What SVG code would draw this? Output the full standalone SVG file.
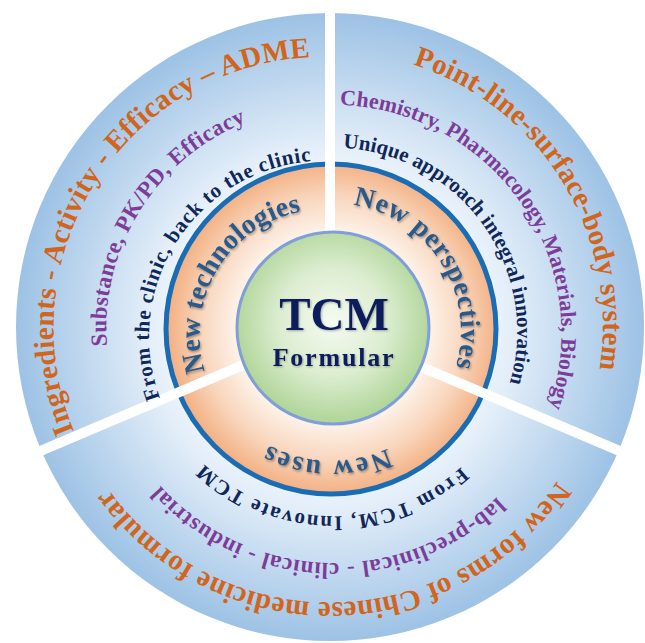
<svg xmlns="http://www.w3.org/2000/svg" width="645" height="643" viewBox="0 0 645 643">
<style>
  text { font-family: "Liberation Serif", "Times New Roman", serif; font-weight: bold; }
  .o { fill: #d2651c; font-size: 29px; }
  .p { fill: #7d3c98; font-size: 23px; }
  .n { fill: #10275a; font-size: 21px; }
  .r { fill: #2b5a89; font-size: 28px; filter: url(#shadow); }
  .div { stroke: #ffffff; stroke-width: 10; fill: none; }
</style>
<defs>
  <radialGradient id="gBlue" gradientUnits="userSpaceOnUse" cx="330" cy="328" r="314">
    <stop offset="0.5" stop-color="#eef5fc"/>
    <stop offset="0.58" stop-color="#e3eef9"/>
    <stop offset="1" stop-color="#9dc2e5"/>
  </radialGradient>
  <radialGradient id="gOrange" gradientUnits="userSpaceOnUse" cx="333" cy="328" r="165">
    <stop offset="0.58" stop-color="#fdf3ea"/>
    <stop offset="0.8" stop-color="#f9d6bd"/>
    <stop offset="1" stop-color="#f3b184"/>
  </radialGradient>
  <radialGradient id="gGreen" gradientUnits="userSpaceOnUse" cx="333" cy="322" r="98">
    <stop offset="0" stop-color="#f5faf2"/>
    <stop offset="0.55" stop-color="#dcedd0"/>
    <stop offset="1" stop-color="#b2d69b"/>
  </radialGradient>
  <filter id="shadow" x="-10%" y="-10%" width="120%" height="130%">
    <feDropShadow dx="1" dy="1.5" stdDeviation="1" flood-color="#000000" flood-opacity="0.35"/>
  </filter>
  <filter id="shadow2" x="-10%" y="-10%" width="120%" height="130%">
    <feDropShadow dx="1" dy="1" stdDeviation="0.8" flood-color="#000000" flood-opacity="0.3"/>
  </filter>
  <path id="t1" d="M 74 431 A 271 271 0 0 1 313 57"/>
  <path id="t2" d="M 107 346 A 222 222 0 0 1 249 121"/>
  <path id="t3" d="M 160 398 A 176 176 0 0 1 314 161"/>
  <path id="t4" d="M 205 371 A 125 125 0 0 1 304 211"/>
  <path id="t5" d="M 413 64.5 A 274 274 0 0 1 599 372"/>
  <path id="t6" d="M 340 105 A 228 228 0 0 1 548 410"/>
  <path id="t7" d="M 343 148 A 184 184 0 0 1 509 386"/>
  <path id="t8" d="M 353 205 A 128 128 0 0 1 455 370"/>
  <path id="t9" d="M 557 481 A 273 273 0 0 1 107 487"/>
  <path id="t10" d="M 497 497 A 234 234 0 0 1 158 483"/>
  <path id="t11" d="M 461 467 A 188 188 0 0 1 202 462"/>
  <path id="t12" d="M 387.5 448.5 A 132 132 0 0 1 267 444"/>
</defs>

<g id="background">
  <circle cx="330" cy="327" r="314" fill="url(#gBlue)"/>
  <circle cx="331" cy="329" r="165" fill="url(#gOrange)" stroke="#1a6db5" stroke-width="5"/>
</g>

<g id="dividers">
  <line class="div" x1="330" y1="0" x2="330" y2="245"/>
  <line class="div" x1="403.6" y1="359.3" x2="647.6" y2="462.8"/>
  <line class="div" x1="256.4" y1="359.3" x2="12.4" y2="462.8"/>
</g>

<g id="center">
  <circle cx="333" cy="328" r="96" fill="url(#gGreen)" stroke="#7f9fd9" stroke-width="3"/>
  <text x="334" y="330" text-anchor="middle" style="font-size:47px; fill:#0f1f5c; filter:url(#shadow2)">TCM</text>
  <text x="334" y="366" text-anchor="middle" style="font-size:26px; fill:#0f1f5c; letter-spacing:1.8px; filter:url(#shadow2)">Formular</text>
</g>

<g id="sector-new-technologies">
  <text class="o"><textPath href="#t1" textLength="517" lengthAdjust="spacing">Ingredients - Activity - Efficacy – ADME</textPath></text>
  <text class="p"><textPath href="#t2" textLength="282" lengthAdjust="spacing">Substance, PK/PD, Efficacy</textPath></text>
  <text class="n"><textPath href="#t3" textLength="325" lengthAdjust="spacing">From the clinic, back to the clinic</textPath></text>
  <text class="r"><textPath href="#t4" textLength="210" lengthAdjust="spacing">New technologies</textPath></text>
</g>

<g id="sector-new-perspectives">
  <text class="o"><textPath href="#t5" textLength="389" lengthAdjust="spacing">Point-line-surface-body system</textPath></text>
  <text class="p" style="font-size:22px"><textPath href="#t6" textLength="427" lengthAdjust="spacing">Chemistry, Pharmacology, Materials, Biology</textPath></text>
  <text class="n"><textPath href="#t7" textLength="331" lengthAdjust="spacing">Unique approach integral innovation</textPath></text>
  <text class="r"><textPath href="#t8" textLength="217" lengthAdjust="spacing">New perspectives</textPath></text>
</g>

<g id="sector-new-uses">
  <text class="o"><textPath href="#t9" textLength="526" lengthAdjust="spacing">New forms of Chinese medicine formular</textPath></text>
  <text class="p"><textPath href="#t10" textLength="376" lengthAdjust="spacing">lab-preclinical - clinical - industrial</textPath></text>
  <text class="n"><textPath href="#t11" textLength="283" lengthAdjust="spacing">From TCM, Innovate TCM</textPath></text>
  <text class="r"><textPath href="#t12" textLength="123" lengthAdjust="spacing">New uses</textPath></text>
</g>
</svg>
